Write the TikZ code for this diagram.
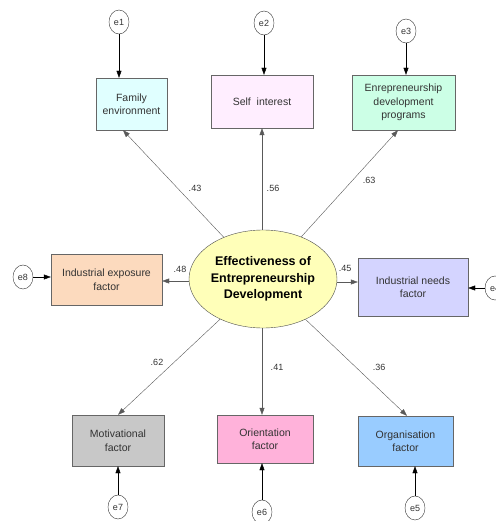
\documentclass[tikz,border=0pt]{standalone}
\usepackage{fontspec}
\setmainfont{Liberation Sans}
\usetikzlibrary{shapes.geometric,arrows.meta}

\definecolor{famcol}{RGB}{224,255,255}
\definecolor{selfcol}{RGB}{255,238,255}
\definecolor{progcol}{RGB}{204,255,230}
\definecolor{expcol}{RGB}{252,218,190}
\definecolor{needcol}{RGB}{212,212,255}
\definecolor{motcol}{RGB}{200,200,200}
\definecolor{oricol}{RGB}{255,178,218}
\definecolor{orgcol}{RGB}{153,204,255}
\definecolor{latcol}{RGB}{255,255,185}

\begin{document}
\begin{tikzpicture}[x=1pt, y=-1pt,
    factor/.style = {draw=black!60, rectangle, align=center, inner sep=0pt,
                     text=black!80, font=\fontsize{10.5}{13.5}\selectfont},
    err/.style = {draw=black!80, ellipse, inner sep=0pt, minimum width=20pt,
                  minimum height=24pt, text=black!80, font=\fontsize{9}{10}\selectfont},
    load/.style = {draw=black!65, -{Triangle[length=7pt,width=5pt]}},
    errload/.style = {draw=black, -{Triangle[length=7pt,width=5pt]}},
    coef/.style = {inner sep=0pt, text=black!80, font=\fontsize{9}{10}\selectfont}]

    \useasboundingbox (0,0) rectangle (495,521);

    % latent variable
    \node[draw=black!70, fill=latcol, ellipse, minimum width=148pt, minimum height=98pt,
          inner sep=0pt, align=center, font=\fontsize{12.5}{16.5}\selectfont\bfseries]
          (eff) at (263,279) {Effectiveness of\\Entrepreneurship\\Development};

    % observed factors
    \node[factor, fill=famcol, minimum width=71pt, minimum height=52pt] (fam) at (131.5,104) {Family\\environment};
    \node[factor, fill=selfcol, minimum width=102pt, minimum height=53pt] (self) at (262,101.5) {Self~~interest};
    \node[factor, fill=progcol, minimum width=103pt, minimum height=55pt] (prog) at (403.5,102.5) {Enrepreneurship\\development\\programs};
    \node[factor, fill=expcol, minimum width=111pt, minimum height=51pt] (expo) at (106.5,279.5) {Industrial exposure\\factor};
    \node[factor, fill=needcol, minimum width=110pt, minimum height=58pt] (need) at (413,287) {Industrial needs\\factor};
    \node[factor, fill=motcol, minimum width=92pt, minimum height=51pt] (mot) at (118,440.5) {Motivational\\factor};
    \node[factor, fill=oricol, minimum width=96pt, minimum height=48pt] (ori) at (265,439) {Orientation\\factor};
    \node[factor, fill=orgcol, minimum width=95pt, minimum height=50pt] (org) at (405.5,441) {Organisation\\factor};

    % error terms
    \node[err] (e1) at (119,22) {e1};
    \node[err] (e2) at (264,23) {e2};
    \node[err] (e3) at (406,31) {e3};
    \node[err] (e8) at (23,277) {e8};
    \node[err] (e4) at (495,288) {e4};
    \node[err] (e7) at (118,507) {e7};
    \node[err] (e6) at (262,512) {e6};
    \node[err] (e5) at (415,508) {e5};

    % loadings
    \draw[load] (eff) -- ([xshift=-8.5pt]fam.south);
    \draw[load] (eff.north -| self) -- (self);
    \draw[load] (eff) -- ([xshift=-5.5pt]prog.south);
    \draw[load] (eff.west |- 0,281) -- (expo.east |- 0,281);
    \draw[load] (eff.east |- 0,282) -- (need.west |- 0,282);
    \draw[load] (eff) -- (mot.north);
    \draw[load] (eff.south -| ori.north) ++(-3pt,0) -- ([xshift=-3pt]ori.north);
    \draw[load] (eff) -- ([xshift=1.5pt]org.north);

    \node[coef] (c43) at (195,188) {.43};
    \node[coef] (c56) at (273,188) {.56};
    \node[coef] (c63) at (369,180) {.63};
    \node[coef] (c48) at (180,269) {.48};
    \node[coef] (c45) at (345,268) {.45};
    \node[coef] (c62) at (157,362) {.62};
    \node[coef] (c41) at (277,367) {.41};
    \node[coef] (c36) at (379,367) {.36};

    % errors to factors
    \draw[errload] (e1) -- (e1 |- fam.north);
    \draw[errload] (e2) -- (e2 |- self.north);
    \draw[errload] (e3) -- (e3 |- prog.north);
    \draw[errload] (e8) -- (e8 -| expo.west);
    \draw[errload] (e4) -- (e4 -| need.east);
    \draw[errload] (e7) -- (e7 |- mot.south);
    \draw[errload] (e6) -- (e6 |- ori.south);
    \draw[errload] (e5) -- (e5 |- org.south);

\end{tikzpicture}
\end{document}
